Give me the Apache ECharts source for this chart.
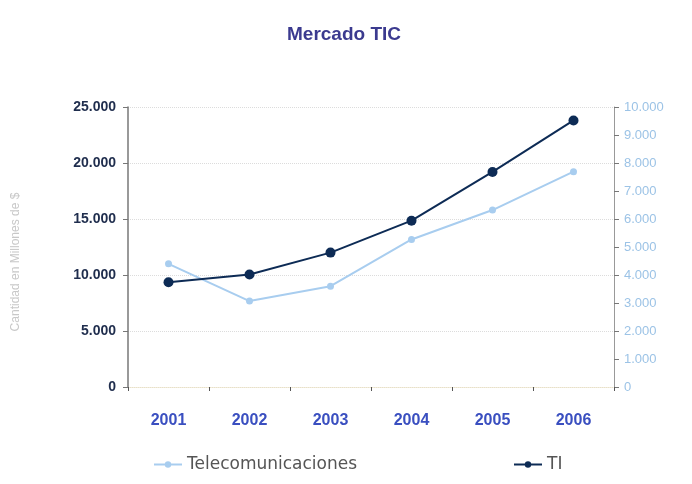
<!DOCTYPE html>
<html>
<head>
<meta charset="utf-8">
<script src="https://cdn.jsdelivr.net/npm/echarts@6/dist/echarts.min.js"></script>
<style>
  html, body { margin: 0; padding: 0; background: #fff; }
  #chart { width: 692px; height: 484px; }
</style>
</head>
<body>
<div id="chart"></div>
<script>
const years = ['2001', '2002', '2003', '2004', '2005', '2006']
// Telecomunicaciones on the right axis, TI on the left axis
const telecom = [4400, 3070, 3600, 5270, 6320, 7690]
const ti = [9350, 10050, 12000, 14850, 19200, 23800]

const fmt = (v) => v === 0 ? '0' : v.toLocaleString('de-DE')

const legendText = { color: '#555', fontSize: 17, fontFamily: 'DejaVu Sans' }

const chart = echarts.init(document.getElementById('chart'))

chart.setOption({
  animation: false,
  backgroundColor: '#ffffff',
  title: {
    text: 'Mercado TIC',
    left: 282,
    top: 20,
    textStyle: { color: '#3b3a8f', fontSize: 19, fontWeight: 'bold', fontFamily: 'Liberation Sans, Arial' }
  },
  grid: { left: 128, right: 78, top: 107, bottom: 97 },
  legend: [
    {
      bottom: 6, left: 148,
      itemWidth: 28, itemHeight: 8, itemGap: 4,
      textStyle: legendText,
      data: ['Telecomunicaciones']
    },
    {
      bottom: 6, left: 508,
      itemWidth: 28, itemHeight: 8, itemGap: 4,
      textStyle: legendText,
      data: ['TI']
    }
  ],
  xAxis: {
    type: 'category',
    data: years,
    axisLine: { lineStyle: { color: '#e8e0c8', type: 'dotted' } },
    axisTick: { show: true, length: 4, lineStyle: { color: '#555' } },
    axisLabel: { color: '#3a4fc0', fontSize: 16, fontWeight: 'bold', margin: 26, fontFamily: 'Liberation Sans, Arial' },
    splitLine: { show: false }
  },
  yAxis: [
    {
      type: 'value',
      min: 0, max: 25000, interval: 5000,
      name: 'Cantidad en Millones de $',
      nameLocation: 'middle',
      nameGap: 106,
      nameTextStyle: { color: '#c8c8c8', fontSize: 12, fontFamily: 'Liberation Sans, Arial', padding: [0, 0, 0, -30] },
      axisLine: { show: true, lineStyle: { color: '#777', width: 1.5 } },
      axisTick: { show: true, length: 5, lineStyle: { color: '#777' } },
      axisLabel: { color: '#1f2d4d', fontSize: 14, fontWeight: 'bold', margin: 12, formatter: fmt, fontFamily: 'Liberation Sans, Arial' },
      splitLine: { show: true, lineStyle: { color: '#dcdcdc', type: 'dotted' } }
    },
    {
      type: 'value',
      min: 0, max: 10000, interval: 1000,
      position: 'right',
      axisLine: { show: true, lineStyle: { color: '#999', width: 1 } },
      axisTick: { show: true, inside: false, length: 5, lineStyle: { color: '#777' } },
      axisLabel: { color: '#9cc3e6', fontSize: 13, margin: 10, formatter: fmt, fontFamily: 'Liberation Sans, Arial' },
      splitLine: { show: false }
    }
  ],
  series: [
    {
      name: 'Telecomunicaciones',
      type: 'line',
      yAxisIndex: 1,
      data: telecom,
      symbol: 'circle',
      symbolSize: 7,
      color: '#a8cdef',
      lineStyle: { width: 2, color: '#a8cdef' },
      itemStyle: { color: '#a8cdef' }
    },
    {
      name: 'TI',
      type: 'line',
      yAxisIndex: 0,
      data: ti,
      symbol: 'circle',
      symbolSize: 10,
      color: '#0d2b55',
      lineStyle: { width: 2, color: '#0d2b55' },
      itemStyle: { color: '#0d2b55' }
    }
  ]
})
</script>
</body>
</html>
